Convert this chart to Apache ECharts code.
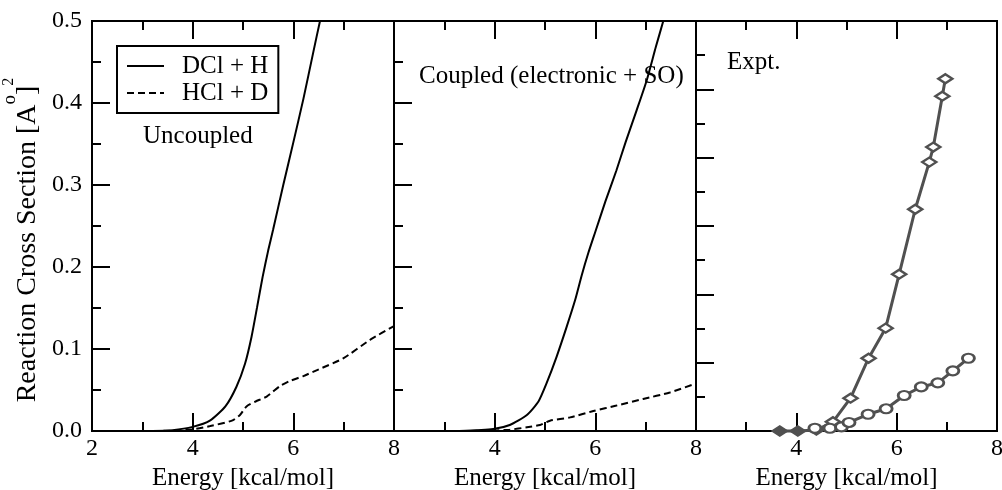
<!DOCTYPE html>
<html>
<head>
<meta charset="utf-8">
<script src="https://cdn.jsdelivr.net/npm/echarts@6/dist/echarts.min.js"></script>
<style>
  html, body { margin: 0; padding: 0; background: #fff; }
  #chart { width: 1002px; height: 490px; }
</style>
</head>
<body>
<div id="chart"></div>
<script>
// Energy in kcal/mol, cross sections in square angstrom
const uncoupledDClH = [[3.2,0],[3.6,0.001],[4.0,0.005],[4.35,0.013],[4.65,0.030],[4.87,0.054],[5.04,0.082],[5.17,0.115],[5.28,0.151],[5.39,0.188],[5.5,0.220],[5.6,0.246],[5.8,0.300],[6.0,0.352],[6.2,0.405],[6.4,0.463],[6.53,0.5],[6.7,0.545]];
const uncoupledHClD = [[3.2,0],[3.6,0.0005],[4.0,0.002],[4.35,0.006],[4.78,0.0126],[4.94,0.0195],[5.07,0.030],[5.25,0.036],[5.47,0.042],[5.74,0.055],[5.93,0.061],[6.2,0.067],[6.46,0.074],[6.99,0.0885],[7.52,0.111],[8.0,0.128]];
const coupledDClH = [[3.3,0],[3.97,0.0024],[4.3,0.0073],[4.64,0.0195],[4.87,0.036],[5.03,0.058],[5.23,0.0905],[5.43,0.127],[5.6,0.160],[5.73,0.190],[5.86,0.217],[6.0,0.243],[6.2,0.28],[6.42,0.318],[6.6,0.352],[6.82,0.391],[7.02,0.4275],[7.2,0.468],[7.35,0.5],[7.5,0.535]];
const coupledHClD = [[3.3,0],[3.97,0.0005],[4.3,0.0016],[4.64,0.0045],[4.9,0.0073],[5.1,0.0126],[5.5,0.0166],[5.96,0.0243],[6.42,0.031],[6.95,0.039],[7.48,0.047],[8.0,0.058]];
// Experimental points (arbitrary units)
const exptDClH = [[3.67,0],[4.03,0],[4.40,0.03],[4.73,0.27],[5.08,0.96],[5.44,2.13],[5.78,3.01],[6.05,4.59],[6.37,6.49],[6.65,7.87],[6.73,8.31],[6.91,9.80],[6.97,10.31]];
const exptHClD = [[4.37,0.08],[4.67,0.08],[4.9,0.12],[5.05,0.25],[5.43,0.49],[5.79,0.65],[6.15,1.04],[6.49,1.29],[6.82,1.41],[7.12,1.76],[7.43,2.13]];

const seriesNames = ['DCl + H', 'HCl + D'];
const panelLabels = ['Uncoupled', 'Coupled (electronic + SO)', 'Expt.'];
const xTitle = 'Energy [kcal/mol]';

const FONT = '"Liberation Serif", "Times New Roman", serif';
const BLACK = '#000';
const GREY = '#505050';

const panels = [
  { left: 92, width: 302 },
  { left: 394, width: 302 },
  { left: 696, width: 301 }
];
const TOP = 21, HEIGHT = 410;

const mkLine = () => ({ show: true, onZero: false, lineStyle: { color: BLACK, width: 2 } });
const mkTick = () => ({ show: true, inside: true, length: 18, lineStyle: { color: BLACK, width: 2 } });
const mkMinor = () => ({ show: true, splitNumber: 2, length: 9, lineStyle: { color: BLACK, width: 2 } });

const grids = panels.map(p => ({
  left: p.left, top: TOP, width: p.width, height: HEIGHT,
  show: true, borderColor: BLACK, borderWidth: 2, outerBoundsMode: 'none'
}));

// each panel: labelled bottom axis plus a mirrored top axis carrying ticks only
const xAxes = [];
panels.forEach((p, i) => {
  xAxes.push({
    type: 'value', gridIndex: i, position: 'bottom', min: 2, max: 8, interval: 2,
    axisLine: mkLine(), axisTick: mkTick(), minorTick: mkMinor(), splitLine: { show: false },
    axisLabel: { show: true, showMinLabel: i === 0, fontSize: 24, fontFamily: FONT, color: BLACK, margin: 6 },
    name: xTitle, nameLocation: 'middle', nameGap: 32,
    nameTextStyle: { fontSize: 25, fontFamily: FONT, color: BLACK }
  });
  xAxes.push({
    type: 'value', gridIndex: i, position: 'top', min: 2, max: 8, interval: 2,
    axisLine: mkLine(), axisTick: mkTick(), minorTick: mkMinor(), splitLine: { show: false },
    axisLabel: { show: false }
  });
});

const yAxes = panels.map((p, i) => ({
  type: 'value', gridIndex: i, position: 'left',
  min: 0, max: i === 2 ? 12 : 0.5, interval: i === 2 ? 2 : 0.1,
  axisLine: mkLine(), axisTick: mkTick(), minorTick: mkMinor(), splitLine: { show: false },
  axisLabel: {
    show: i === 0, fontSize: 24, fontFamily: FONT, color: BLACK, margin: 10,
    formatter: v => v.toFixed(1)
  }
}));

function theoryLine(name, data, panel, dashed) {
  return {
    type: 'line', name, data,
    xAxisIndex: panel * 2, yAxisIndex: panel,
    symbol: 'none', showSymbol: false, smooth: 0.2, clip: true,
    lineStyle: { color: BLACK, width: 2, type: dashed ? [7, 4] : 'solid' },
    itemStyle: { color: BLACK },
    emphasis: { disabled: true }
  };
}

function exptLine(name, data, symbol, size) {
  return {
    type: 'line', name, data,
    xAxisIndex: 4, yAxisIndex: 2,
    symbol, symbolSize: size, showSymbol: true, clip: false,
    lineStyle: { color: GREY, width: 3 },
    itemStyle: {
      // points lying on the baseline are drawn solid
      color: params => (params.value[1] === 0 ? GREY : '#fff'),
      borderColor: GREY, borderWidth: 2.5
    },
    emphasis: { disabled: true },
    z: 3
  };
}

const option = {
  backgroundColor: '#fff',
  animation: false,
  grid: grids,
  xAxis: xAxes,
  yAxis: yAxes,
  legend: {
    data: seriesNames,
    left: 117, top: 46, orient: 'vertical',
    borderColor: BLACK, borderWidth: 2, borderRadius: 0,
    padding: [7, 10, 7, 9],
    itemWidth: 37, itemHeight: 14, itemGap: 1,
    selectedMode: false,
    itemStyle: { color: 'rgba(0,0,0,0)', borderColor: 'rgba(0,0,0,0)', borderWidth: 0, opacity: 0 },
    textStyle: { fontSize: 25, fontFamily: FONT, color: BLACK, lineHeight: 26, padding: [0, 0, 0, 13] }
  },
  series: [
    theoryLine(seriesNames[0], uncoupledDClH, 0, false),
    theoryLine(seriesNames[1], uncoupledHClD, 0, true),
    theoryLine(seriesNames[0], coupledDClH, 1, false),
    theoryLine(seriesNames[1], coupledHClD, 1, true),
    exptLine(seriesNames[0] + ' (expt.)', exptDClH, 'diamond', [14, 9]),
    exptLine(seriesNames[1] + ' (expt.)', exptHClD, 'circle', [12, 9])
  ],
  graphic: [
    { type: 'text', x: 143, y: 136, style: { text: panelLabels[0], font: '25px ' + FONT, fill: BLACK, align: 'left', verticalAlign: 'middle' } },
    { type: 'text', x: 419, y: 76, style: { text: panelLabels[1], font: '25px ' + FONT, fill: BLACK, align: 'left', verticalAlign: 'middle' } },
    { type: 'text', x: 727, y: 62, style: { text: panelLabels[2], font: '25px ' + FONT, fill: BLACK, align: 'left', verticalAlign: 'middle' } },
    {
      type: 'text', x: 28, y: 240, rotation: Math.PI / 2,
      style: {
        text: 'Reaction Cross Section [A{o|o}]{t|2}',
        font: '28px ' + FONT, fill: BLACK, lineHeight: 54,
        align: 'center', verticalAlign: 'middle',
        rich: {
          o: { fontSize: 19, fontFamily: FONT, lineHeight: 19, verticalAlign: 'top', fill: BLACK },
          t: { fontSize: 16, fontFamily: FONT, lineHeight: 16, verticalAlign: 'top', fill: BLACK }
        }
      }
    }
  ]
};

const chart = echarts.init(document.getElementById('chart'), null, { renderer: 'canvas' });
chart.setOption(option);
</script>
</body>
</html>
